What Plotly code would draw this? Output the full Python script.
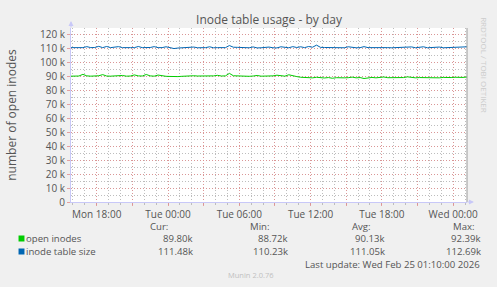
import plotly.graph_objects as go
import pandas as pd

# ---- data (values in thousands, 20-minute samples) ----
start = "2026-02-23 15:50"
end = "2026-02-25 01:10"
times = pd.date_range(start, end, freq="20min")

open_inodes = [
    90.4, 90.3, 90.5, 91.7, 90.6, 90.4, 90.5, 90.7, 91.5, 90.5,
    90.4, 90.6, 90.5, 90.9, 90.4, 90.5, 91.3, 90.6, 90.5, 91.6,
    90.6, 90.4, 91.2, 90.5, 90.3, 90.2, 90.0, 90.1, 90.3, 90.5,
    90.4, 90.7, 90.5, 90.4, 90.8, 90.5, 90.6, 91.0, 90.5, 90.6,
    92.39, 90.7, 90.5, 90.4, 90.6, 90.3, 90.5, 90.9, 90.4, 90.4,
    90.5, 90.6, 91.1, 90.5, 90.4, 91.4, 90.6, 90.1, 89.6, 89.3,
    89.4, 89.2, 89.6, 89.3, 89.1, 89.4, 88.9, 89.3, 89.5, 89.2,
    89.3, 89.7, 89.2, 89.4, 88.72, 89.3, 89.5, 89.2, 89.4, 89.8,
    89.3, 89.2, 89.5, 89.3, 89.4, 89.9, 89.3, 89.2, 89.4, 89.3,
    89.6, 89.3, 89.4, 89.2, 89.5, 89.3, 89.4, 89.6, 89.3, 89.5,
    89.80,
]
inode_table_size = [
    110.9, 110.8, 111.0, 110.9, 111.6, 110.9, 111.0, 111.8, 110.9, 111.7,
    110.9, 111.0, 111.6, 110.9, 111.1, 110.9, 110.9, 111.7, 110.9, 110.9,
    111.0, 111.6, 110.9, 110.9, 111.5, 110.9, 110.23, 110.6, 110.7, 110.8,
    110.7, 111.3, 110.8, 110.7, 110.9, 111.5, 110.8, 110.9, 111.0, 110.9,
    112.4, 111.2, 111.1, 111.0, 110.9, 110.8, 111.4, 110.7, 110.8, 110.9,
    111.3, 110.8, 110.7, 111.5, 110.9, 110.8, 111.6, 111.0, 111.5, 110.9,
    111.7, 111.2, 112.69, 111.1, 111.0, 110.9, 110.8, 111.2, 110.9, 110.8,
    111.5, 110.9, 110.8, 110.9, 111.6, 110.9, 111.0, 110.9, 110.8, 111.2,
    110.9, 110.8, 110.9, 111.1, 110.8, 110.9, 111.4, 110.8, 110.9, 111.5,
    110.8, 110.9, 111.0, 111.3, 110.8, 110.9, 111.1, 110.8, 110.9, 111.3,
    111.48,
]

series_names = ["open inodes", "inode table size"]
series_colors = ["#00CC00", "#0066B3"]
stat_labels = ["Cur:", "Min:", "Avg:", "Max:"]
stats = [
    ["89.80k", "88.72k", "90.13k", "92.39k"],
    ["111.48k", "110.23k", "111.05k", "112.69k"],
]
x_tick_vals = pd.date_range("2026-02-23 18:00", "2026-02-25 00:00", freq="3h")
x_tick_text = ["Mon 18:00", "", "Tue 00:00", "", "Tue 06:00", "", "Tue 12:00",
               "", "Tue 18:00", "", "Wed 00:00"]
y_tick_vals = [i * 10000 for i in range(13)]
y_tick_text = ["0"] + [f"{i * 10} k" for i in range(1, 13)]

# ---- figure ----
W, H = 497, 287
L, R, T, B = 67, 30, 28, 85
PW, PH = W - L - R, H - T - B
FONT = "Open Sans"
TXT = "#555555"
RED_GRID = "rgba(225,140,140,0.8)"
GRAY_GRID = "#BDBDBD"
AXIS = "#C8C8F8"
DASH = "1px,2px"


def px(x):
    return (x - L) / PW


def py(y):
    return (H - B - y) / PH


fig = go.Figure()
for name, vals, col in zip(series_names, [open_inodes, inode_table_size], series_colors):
    fig.add_trace(go.Scatter(
        x=times, y=[v * 1000 for v in vals], mode="lines", name=name,
        line=dict(color=col, width=1), showlegend=False, hoverinfo="skip"))

fig.update_layout(
    width=W, height=H,
    margin=dict(l=L, r=R, t=T, b=B, pad=0),
    paper_bgcolor="#F0F0F0", plot_bgcolor="#FFFFFF",
    font=dict(family=FONT, size=10, color=TXT),
    title=dict(text="Inode table usage - by day", x=0.5, xref="paper",
               y=1 - 20 / H, yanchor="middle",
               font=dict(family=FONT, size=12, color=TXT)),
)
fig.update_xaxes(
    range=[start, end], tickvals=x_tick_vals, ticktext=x_tick_text,
    showgrid=True, gridcolor=RED_GRID, griddash=DASH, gridwidth=1,
    minor=dict(dtick=3600000, tick0="2026-02-23 16:00", showgrid=True,
               gridcolor=GRAY_GRID, griddash=DASH, gridwidth=1,
               ticks="outside", ticklen=2, tickcolor=GRAY_GRID),
    ticks="outside", ticklen=3, tickcolor=RED_GRID,
    showline=True, linecolor=AXIS, linewidth=1, zeroline=False,
    tickfont=dict(family=FONT, size=10, color=TXT), fixedrange=True,
)
fig.update_yaxes(
    range=[0, 125000], tickvals=y_tick_vals, ticktext=y_tick_text,
    showgrid=True, gridcolor=RED_GRID, griddash=DASH, gridwidth=1,
    minor=dict(dtick=5000, tick0=0, showgrid=True, gridcolor=GRAY_GRID,
               griddash=DASH, gridwidth=1),
    ticks="outside", ticklen=3, tickcolor=RED_GRID,
    showline=True, linecolor=AXIS, linewidth=1, zeroline=False,
    title=dict(text="number of open inodes", standoff=20,
               font=dict(family=FONT, size=12, color=TXT)),
    tickfont=dict(family=FONT, size=10, color=TXT), fixedrange=True,
)

# right frame line
fig.add_shape(type="line", xref="paper", yref="paper", x0=1, x1=1, y0=0, y1=1,
              line=dict(color="#999999", width=1))

# axis arrows
fig.add_annotation(xref="paper", yref="paper", x=0, y=py(21), text="", showarrow=True,
                   ax=0, ay=8, arrowhead=2, arrowsize=1, arrowwidth=1,
                   arrowcolor=AXIS, standoff=0)
fig.add_annotation(xref="paper", yref="paper", x=px(474), y=0, text="", showarrow=True,
                   ax=-8, ay=0, arrowhead=2, arrowsize=1, arrowwidth=1,
                   arrowcolor=AXIS, standoff=0)

# watermark
fig.add_annotation(xref="paper", yref="paper", x=px(485), y=py(15), text="RRDTOOL / TOBI OETIKER",
                   showarrow=False, textangle=90, xanchor="center", yanchor="top",
                   font=dict(family=FONT, size=8, color="#CCCCCC"))

# legend header
FS = 9.6
stat_right = [192, 288, 386, 483]
for lab, xr in zip(stat_labels, [167, 269, 372, 477]):
    fig.add_annotation(xref="paper", yref="paper", x=px(xr), y=py(226.5), text=lab,
                       showarrow=False, xanchor="right", yanchor="middle",
                       font=dict(family=FONT, size=FS, color=TXT))

row_y = [238.5, 251.5]
for name, col, st, ry in zip(series_names, series_colors, stats, row_y):
    fig.add_shape(type="rect", xref="paper", yref="paper",
                  x0=px(14), x1=px(20), y0=py(ry + 3), y1=py(ry - 3),
                  fillcolor=col, line=dict(width=0))
    fig.add_annotation(xref="paper", yref="paper", x=px(20), y=py(ry), text=name,
                       showarrow=False, xanchor="left", yanchor="middle",
                       font=dict(family=FONT, size=FS, color=TXT))
    for v, xr in zip(st, stat_right):
        fig.add_annotation(xref="paper", yref="paper", x=px(xr), y=py(ry), text=v,
                           showarrow=False, xanchor="right", yanchor="middle",
                           font=dict(family=FONT, size=FS, color=TXT))

fig.add_annotation(xref="paper", yref="paper", x=px(482), y=py(264.5),
                   text="Last update: Wed Feb 25 01:10:00 2026",
                   showarrow=False, xanchor="right", yanchor="middle",
                   font=dict(family=FONT, size=FS, color=TXT))
fig.add_annotation(xref="paper", yref="paper", x=px(248), y=py(275), text="Munin 2.0.76",
                   showarrow=False, xanchor="center", yanchor="middle",
                   font=dict(family=FONT, size=7.5, color="#C0C0C0"))

fig.write_html("out.html")
